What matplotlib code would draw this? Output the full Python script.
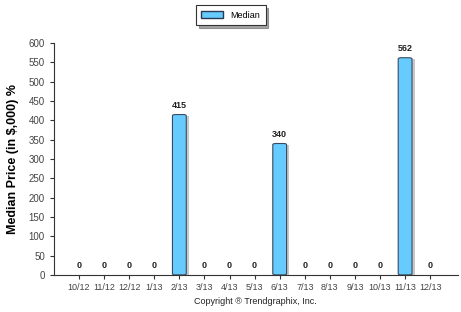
import matplotlib
matplotlib.use('Agg')
import matplotlib.pyplot as plt
from matplotlib.patches import FancyBboxPatch

plt.rcParams['font.family'] = ['Liberation Sans', 'DejaVu Sans']

months = ['10/12', '11/12', '12/12', '1/13', '2/13', '3/13', '4/13', '5/13',
          '6/13', '7/13', '8/13', '9/13', '10/13', '11/13', '12/13']
median = [0, 0, 0, 0, 415, 0, 0, 0, 340, 0, 0, 0, 0, 562, 0]

fig = plt.figure(figsize=(4.61, 3.12), dpi=100)
ax = fig.add_axes([0.117, 0.119, 0.876, 0.743])

w = 0.55
for i, v in enumerate(median):
  if v > 0:
    # shadow
    ax.bar(i + 0.1, v - 3, width=w, color='#c8c8c8', edgecolor='none', zorder=1)
    p = FancyBboxPatch((i - w/2, 0), w, v,
                       boxstyle='round,pad=0,rounding_size=0.12',
                       mutation_aspect=25,
                       facecolor='#66ccff', edgecolor='#3a4a60', linewidth=0.8, zorder=2)
    ax.add_patch(p)
  ax.text(i, v + 12, str(v), ha='center', va='bottom', fontsize=6.5,
          fontweight='bold', color='#222222')

# legend-like handle
ax.bar([0], [0], width=0, color='#66ccff', edgecolor='#2a3a55', label='Median')
leg = ax.legend(loc='upper center', bbox_to_anchor=(0.438, 1.183), fontsize=6.5,
                frameon=True, fancybox=False, shadow=True, handlelength=2.4,
                handleheight=0.8, borderpad=0.6)
leg.get_frame().set_edgecolor('#333333')
leg.get_frame().set_linewidth(0.8)

ax.set_xlim(-1, 15.1)
ax.set_ylim(0, 600)
ax.set_yticks(range(0, 601, 50))
ax.set_xticks(range(len(months)))
ax.set_xticklabels(months)
ax.tick_params(axis='both', labelsize=7, length=3, width=0.8, colors='#333333',
               labelcolor='#444444')
ax.tick_params(axis='x', pad=3, labelsize=6.5)
for s in ['top', 'right']:
  ax.spines[s].set_visible(False)
for s in ['left', 'bottom']:
  ax.spines[s].set_color('#333333')
  ax.spines[s].set_linewidth(0.8)

ax.set_ylabel('Median Price (in $,000) %', fontsize=9, fontweight='bold', labelpad=7)
fig.text(0.553, 0.025, 'Copyright \u00ae Trendgraphix, Inc.', ha='center', fontsize=6.5, color='#222222')

fig.savefig('out.png', dpi=100)
